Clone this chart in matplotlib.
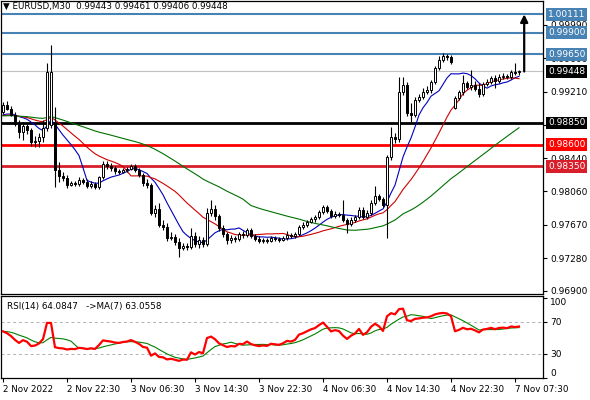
import numpy as np
import pandas as pd
import matplotlib
matplotlib.use("Agg")
import matplotlib.pyplot as plt
import matplotlib.transforms as mtrans

# ---------------- data ----------------
open_ = [
0.98978, 0.99059, 0.99013, 0.98943, 0.98838, 0.98745, 0.98815, 0.98769, 0.98629, 0.98641,
0.98687, 0.98792, 0.98827, 0.98862, 0.98304, 0.98235, 0.98211, 0.98130, 0.98153, 0.98142,
0.98188, 0.98165, 0.98118, 0.98142, 0.98107, 0.98223, 0.98374, 0.98351, 0.98327, 0.98293,
0.98281, 0.98304, 0.98316, 0.98351, 0.98304, 0.98246, 0.98153, 0.98130, 0.97805, 0.97851,
0.97666, 0.97643, 0.97515, 0.97527, 0.97468, 0.97399, 0.97422, 0.97410, 0.97538, 0.97445,
0.97492, 0.97445, 0.97805, 0.97851, 0.97770, 0.97631, 0.97561, 0.97492, 0.97515, 0.97503,
0.97561, 0.97550, 0.97608, 0.97538, 0.97503, 0.97480, 0.97492, 0.97480, 0.97515, 0.97503,
0.97492, 0.97515, 0.97550, 0.97538, 0.97561, 0.97643, 0.97666, 0.97701, 0.97735, 0.97759,
0.97817, 0.97875, 0.97828, 0.97770, 0.97793, 0.97782, 0.97724, 0.97677, 0.97724, 0.97759,
0.97840, 0.97759, 0.97805, 0.97921, 0.98002, 0.97967, 0.97898, 0.98455, 0.98687, 0.98664,
0.99210, 0.99291, 0.98966, 0.98943, 0.99117, 0.99152, 0.99210, 0.99233, 0.99326, 0.99489,
0.99581, 0.99628, 0.99616, 0.99024, 0.99140, 0.99210, 0.99314, 0.99268, 0.99291, 0.99245,
0.99187, 0.99303, 0.99326, 0.99372, 0.99338, 0.99384, 0.99396, 0.99384, 0.99442, 0.99443,
]
high = [
0.99094, 0.99105, 0.99047, 0.98978, 0.98885, 0.98862, 0.98838, 0.98792, 0.98699, 0.98734,
0.98885, 0.99547, 0.99756, 0.99036, 0.98397, 0.98281, 0.98246, 0.98176, 0.98176, 0.98223,
0.98211, 0.98200, 0.98176, 0.98165, 0.98235, 0.98409, 0.98409, 0.98385, 0.98351, 0.98316,
0.98327, 0.98339, 0.98374, 0.98374, 0.98327, 0.98269, 0.98200, 0.98153, 0.97898, 0.97921,
0.97724, 0.97689, 0.97585, 0.97561, 0.97515, 0.97457, 0.97457, 0.97631, 0.97585, 0.97538,
0.97527, 0.97863, 0.97956, 0.97898, 0.97793, 0.97666, 0.97585, 0.97550, 0.97538, 0.97585,
0.97596, 0.97631, 0.97631, 0.97561, 0.97538, 0.97515, 0.97515, 0.97538, 0.97538, 0.97527,
0.97538, 0.97596, 0.97573, 0.97585, 0.97666, 0.97701, 0.97724, 0.97759, 0.97782, 0.97840,
0.97898, 0.97898, 0.97851, 0.97828, 0.97817, 0.97956, 0.97747, 0.97759, 0.97782, 0.97875,
0.97875, 0.97840, 0.97956, 0.98118, 0.98025, 0.97991, 0.98478, 0.98804, 0.98734, 0.99384,
0.99384, 0.99326, 0.99082, 0.99152, 0.99187, 0.99256, 0.99280, 0.99349, 0.99512, 0.99628,
0.99663, 0.99651, 0.99639, 0.99163, 0.99233, 0.99407, 0.99338, 0.99465, 0.99338, 0.99314,
0.99326, 0.99361, 0.99396, 0.99407, 0.99419, 0.99431, 0.99419, 0.99465, 0.99547, 0.99461,
]
low = [
0.98955, 0.99001, 0.98931, 0.98815, 0.98676, 0.98653, 0.98722, 0.98583, 0.98571, 0.98571,
0.98629, 0.98757, 0.98792, 0.98107, 0.98165, 0.98176, 0.98095, 0.98118, 0.98118, 0.98118,
0.98142, 0.98095, 0.98095, 0.98083, 0.98083, 0.98200, 0.98316, 0.98293, 0.98258, 0.98258,
0.98269, 0.98281, 0.98304, 0.98281, 0.98223, 0.98118, 0.98095, 0.97782, 0.97759, 0.97643,
0.97608, 0.97480, 0.97492, 0.97434, 0.97294, 0.97375, 0.97375, 0.97387, 0.97410, 0.97399,
0.97410, 0.97422, 0.97770, 0.97724, 0.97596, 0.97527, 0.97445, 0.97457, 0.97468, 0.97480,
0.97515, 0.97527, 0.97515, 0.97480, 0.97457, 0.97457, 0.97457, 0.97468, 0.97480, 0.97468,
0.97480, 0.97492, 0.97515, 0.97515, 0.97538, 0.97620, 0.97643, 0.97689, 0.97701, 0.97735,
0.97793, 0.97805, 0.97747, 0.97747, 0.97759, 0.97701, 0.97573, 0.97654, 0.97701, 0.97735,
0.97735, 0.97735, 0.97782, 0.97898, 0.97944, 0.97875, 0.97515, 0.98420, 0.98618, 0.98629,
0.99175, 0.98931, 0.98862, 0.98920, 0.99094, 0.99129, 0.99187, 0.99198, 0.99303, 0.99465,
0.99558, 0.99581, 0.99535, 0.99013, 0.99117, 0.99175, 0.99245, 0.99233, 0.99222, 0.99152,
0.99163, 0.99280, 0.99303, 0.99256, 0.99314, 0.99361, 0.99361, 0.99361, 0.99407, 0.99406,
]
close = [
0.99059, 0.99013, 0.98943, 0.98838, 0.98745, 0.98815, 0.98769, 0.98629, 0.98641, 0.98687,
0.98792, 0.99442, 0.99442, 0.98304, 0.98235, 0.98211, 0.98130, 0.98153, 0.98142, 0.98188,
0.98165, 0.98118, 0.98142, 0.98107, 0.98223, 0.98374, 0.98351, 0.98327, 0.98293, 0.98281,
0.98304, 0.98316, 0.98351, 0.98304, 0.98246, 0.98153, 0.98130, 0.97805, 0.97851, 0.97666,
0.97643, 0.97515, 0.97527, 0.97468, 0.97399, 0.97422, 0.97410, 0.97538, 0.97445, 0.97492,
0.97445, 0.97805, 0.97851, 0.97770, 0.97631, 0.97561, 0.97492, 0.97515, 0.97503, 0.97561,
0.97550, 0.97608, 0.97538, 0.97503, 0.97480, 0.97492, 0.97480, 0.97515, 0.97503, 0.97492,
0.97515, 0.97550, 0.97538, 0.97561, 0.97643, 0.97666, 0.97701, 0.97735, 0.97759, 0.97817,
0.97875, 0.97828, 0.97770, 0.97793, 0.97782, 0.97724, 0.97677, 0.97724, 0.97759, 0.97840,
0.97759, 0.97805, 0.97921, 0.98002, 0.97967, 0.97898, 0.98455, 0.98687, 0.98664, 0.99210,
0.99291, 0.98966, 0.98943, 0.99117, 0.99152, 0.99210, 0.99233, 0.99326, 0.99489, 0.99581,
0.99628, 0.99616, 0.99558, 0.99140, 0.99210, 0.99314, 0.99268, 0.99291, 0.99245, 0.99187,
0.99303, 0.99326, 0.99372, 0.99338, 0.99384, 0.99396, 0.99384, 0.99442, 0.99431, 0.99448,
]

PRIOR_CLOSE = 0.9893      # price level before the visible window (seeds the MAs)
RSI_START = 58.0          # RSI level at the left edge (seeds Wilder smoothing)
MA_PERIODS = [9, 20, 50]
MA_COLORS = ["#0000C0", "#D00000", "#007000"]

levels = [1.00111, 0.99900, 0.99650, 0.98850, 0.98600, 0.98350]
level_colors = ["#4682B4", "#4682B4", "#4682B4", "#000000", "#FF0000", "#D81E2A"]
level_widths = [1.5, 1.5, 1.5, 2.0, 2.0, 2.0]
current_price = 0.99448
target_price = 1.00111

price_ticks = [0.96900, 0.97280, 0.97670, 0.98060, 0.98440, 0.98830, 0.99210, 0.99600, 0.99990]
time_tick_bars = [0, 16, 32, 48, 64, 80, 96, 112, 128]
time_tick_labels = ["2 Nov 2022", "2 Nov 22:30", "3 Nov 06:30", "3 Nov 14:30", "3 Nov 22:30",
                    "4 Nov 06:30", "4 Nov 14:30", "4 Nov 22:30", "7 Nov 07:30"]
header = "\u25BC EURUSD,M30  0.99443 0.99461 0.99406 0.99448"
rsi_header = "RSI(14) 64.0847   ->MA(7) 63.0558"

# ---------------- derived ----------------
o = np.array(open_); h = np.array(high); l = np.array(low); c = np.array(close)
n = len(c)
x = np.arange(n)

pad = max(MA_PERIODS)
ext = pd.Series(np.concatenate([np.full(pad, PRIOR_CLOSE), c]))
mas = [ext.rolling(p).mean().values[pad:] for p in MA_PERIODS]

delta = np.diff(c, prepend=c[0])
m = np.mean(np.abs(np.diff(c)))
ag = m * RSI_START / 100.0
al = m * (1 - RSI_START / 100.0)
rsi_vals = []
for i, d in enumerate(delta):
    if i > 0:
        ag = (ag * 13 + max(d, 0)) / 14
        al = (al * 13 + max(-d, 0)) / 14
    rsi_vals.append(100 * ag / (ag + al))
rsi_vals = np.array(rsi_vals)
rsi_ma = pd.Series(np.concatenate([np.full(6, RSI_START), rsi_vals])).rolling(7).mean().values[6:]

# ---------------- figure ----------------
W, H = 590, 400
fig = plt.figure(figsize=(W / 100, H / 100), dpi=100)
fig.patch.set_facecolor("white")

def fx(px):
    return px / W

def fy(py):
    return 1 - py / H

ax = fig.add_axes([fx(1), fy(294), fx(542), (294 - 1) / H])
rx = fig.add_axes([fx(1), fy(378), fx(542), (378 - 296) / H])

for a in (ax, rx):
    for s in a.spines.values():
        s.set_color("black")
        s.set_linewidth(0.9)
    a.set_xlim(-0.5, 135.0)

ax.set_ylim(0.96865, 1.00266)

# levels
trans = mtrans.blended_transform_factory(ax.transAxes, ax.transData)
ax.axhline(current_price, color="#C0C0C0", lw=0.8, zorder=1)
for lv, col, lw in zip(levels, level_colors, level_widths):
    ax.axhline(lv, color=col, lw=lw, zorder=1.5)

# moving averages
for ma, col in zip(mas, MA_COLORS):
    ax.plot(x, ma, color=col, lw=0.8, zorder=2)

# candles
up = c >= o
ax.vlines(x, l, h, color="black", lw=0.8, zorder=3)
body_h = np.abs(c - o)
body_h = np.where(body_h < 0.00004, 0.00004, body_h)
ax.bar(x[up], body_h[up], bottom=np.minimum(o, c)[up], width=0.62,
       color="white", edgecolor="black", linewidth=0.7, zorder=4)
ax.bar(x[~up], body_h[~up], bottom=np.minimum(o, c)[~up], width=0.62,
       color="black", edgecolor="black", linewidth=0.7, zorder=4)

# arrow
ax.annotate("", xy=(n + 0.3, target_price), xytext=(n + 0.3, current_price),
            arrowprops=dict(arrowstyle="-|>", color="black", lw=1.6,
                            mutation_scale=11, shrinkA=0, shrinkB=0), zorder=5)

# price axis
ax.set_xticks([])
ax.yaxis.tick_right()
ax.set_yticks(price_ticks)
ax.set_yticklabels([f"{t:.5f}" for t in price_ticks])
ax.tick_params(axis="y", direction="out", length=3, width=0.8, labelsize=6.5, pad=2)

# level labels
all_labels = list(zip(levels, level_colors)) + [(current_price, "#000000")]
for lv, col in all_labels:
    ax.text(1.009, lv, f"{lv:.5f}", transform=trans, ha="left", va="center",
            fontsize=6.5, color="white", zorder=10,
            bbox=dict(boxstyle="square,pad=0.22", fc=col, ec="none"))

fig.text(fx(3), fy(6), header, fontsize=6.3, va="center", ha="left")

# RSI panel
rx.set_ylim(0, 102)
rx.axhline(70, color="#B0B0B0", lw=0.7, ls=(0, (3, 3)))
rx.axhline(30, color="#B0B0B0", lw=0.7, ls=(0, (3, 3)))
rx.plot(x, rsi_ma, color="#008000", lw=0.8, zorder=2)
rx.plot(x, rsi_vals, color="#FF0000", lw=1.6, zorder=3)
rx.yaxis.tick_right()
rx.set_yticks([0, 30, 70, 100])
rx.set_yticklabels(["0", "30", "70", "100"])
rx.tick_params(axis="y", direction="out", length=3, width=0.8, labelsize=6.5, pad=2)
ylabs = rx.get_yticklabels()
ylabs[0].set_va("bottom")
ylabs[-1].set_va("top")
rx.set_xticks(time_tick_bars)
rx.set_xticklabels(time_tick_labels)
rx.tick_params(axis="x", direction="out", length=3, width=0.8, labelsize=6.3, pad=2)
for lb in rx.get_xticklabels():
    lb.set_ha("left")
    lb.set_x(lb.get_position()[0])
fig.text(fx(7), fy(306), rsi_header, fontsize=6.3, va="center", ha="left")

fig.savefig("out.png", dpi=100, facecolor="white")
